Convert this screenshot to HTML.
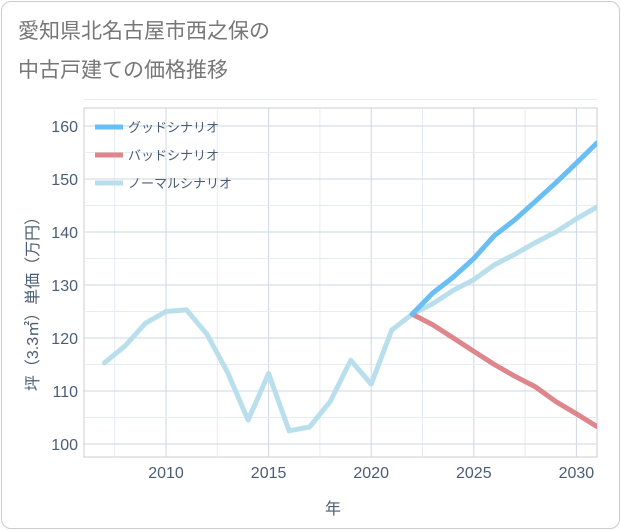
<!DOCTYPE html>
<html><head><meta charset="utf-8"><style>
body{margin:0;background:#fff;font-family:"Liberation Sans","Noto Sans CJK JP",sans-serif;}
#card{position:absolute;left:1px;top:1px;width:617px;height:526px;border:1px solid #ccc;border-radius:10px;background:#fff;}
</style></head><body>
<div id="card"></div>
<svg id="chart" width="621" height="530" style="position:absolute;left:0;top:0">
<text x="18" y="38" font-size="21" fill="#777">愛知県北名古屋市西之保の</text>
<text x="18" y="77" font-size="21" fill="#777">中古戸建ての価格推移</text>
<rect x="84" y="108" width="513" height="349" fill="#fff" stroke="#ccc"/>
<g id="grid"></g><g id="lines"></g><g id="axes"></g>
<text x="333" y="514" font-size="16" fill="#4a5d75" text-anchor="middle">年</text>
<text transform="translate(38,300) rotate(-90)" font-size="16" fill="#4a5d75" text-anchor="middle">坪（3.3㎡）単価（万円）</text>
<g id="legend"></g>
</svg>
<script>
const years=[2007,2008,2009,2010,2011,2012,2013,2014,2015,2016,2017,2018,2019,2020,2021,2022,2023,2024,2025,2026,2027,2028,2029,2030,2031];
const normal=[115.3,118.5,122.8,125,125.3,120.7,113.5,104.5,113.3,102.5,103.2,108,115.8,111.3,121.5,124.5,126.5,129,131,133.8,135.8,138,140,142.5,144.7];
const futureYears=[2022,2023,2024,2025,2026,2027,2028,2029,2030,2031];
const good=[124.5,128.5,131.5,135,139.3,142.3,145.8,149.3,153,156.8];
const bad=[124.5,122.5,120,117.5,115,112.8,110.8,108,105.7,103.3];
const xTicks=[2010,2015,2020,2025,2030];
const yTicks=[100,110,120,130,140,150,160];
const NS="http://www.w3.org/2000/svg";
const x=v=>166+(v-2010)*20.52;
const y=v=>444-(v-100)*5.3;
function mk(tag,attrs,parent){const e=document.createElementNS(NS,tag);for(const k in attrs)e.setAttribute(k,attrs[k]);document.getElementById(parent).appendChild(e);return e;}
xTicks.forEach(t=>{
 const g=mk('line',{x1:x(t),x2:x(t),y1:108,y2:457,stroke:'#cdd7e2'},'grid');
 
 
 const m=mk('line',{x1:x(t+2.5),x2:x(t+2.5),y1:108,y2:457,stroke:'#e6ecf1'},'grid');
 
 
 const l=mk('text',{x:x(t),y:478,'font-size':16,fill:'#4a5d75','text-anchor':'middle'},'axes');l.textContent=t;
 
 
});
{const m=mk('line',{x1:x(2007.5),x2:x(2007.5),y1:108,y2:457,stroke:'#e6ecf1'},'grid');
 
 }
yTicks.forEach(t=>{
 const g=mk('line',{x1:84,x2:597,y1:y(t),y2:y(t),stroke:'#cdd7e2'},'grid');
 
 
 const m=mk('line',{x1:84,x2:597,y1:y(t+5),y2:y(t+5),stroke:'#e6ecf1'},'grid');
 
 
 const l=mk('text',{x:78,y:y(t)+6,'font-size':16,fill:'#4a5d75','text-anchor':'end'},'axes');l.textContent=t;
 
 
});
function line(xs,vs,color,name){
 const d=xs.map((v,i)=>(i?'L':'M')+x(v).toFixed(1)+','+y(vs[i]).toFixed(1)).join(' ');
 const p=mk('path',{d:d,fill:'none',stroke:color,'stroke-width':5,'stroke-linejoin':'round','stroke-linecap':'round','clip-path':'url(#clip)'},'lines');
 
 
}
const defs=mk('defs',{},'lines');const cp=document.createElementNS(NS,'clipPath');cp.setAttribute('id','clip');
const cr=document.createElementNS(NS,'rect');cr.setAttribute('x',84);cr.setAttribute('y',108);cr.setAttribute('width',513);cr.setAttribute('height',349);cp.appendChild(cr);defs.appendChild(cp);
line(years,normal,'#b9dfec','normal-scenario-line');
line(futureYears,bad,'#de868b','bad-scenario-line');
line(futureYears,good,'#69bff4','good-scenario-line');
[['グッドシナリオ','#69bff4','legend-good'],['バッドシナリオ','#de868b','legend-bad'],['ノーマルシナリオ','#b9dfec','legend-normal']].forEach((e,i)=>{
 const yy=127+i*28;
 const l=mk('line',{x1:95,x2:123,y1:yy,y2:yy,stroke:e[1],'stroke-width':5},'legend');
 
 
 const t=mk('text',{x:128,y:yy+5,'font-size':13,fill:'#4a5d75'},'legend');t.textContent=e[0];
 
 
});
</script>
</body></html>
